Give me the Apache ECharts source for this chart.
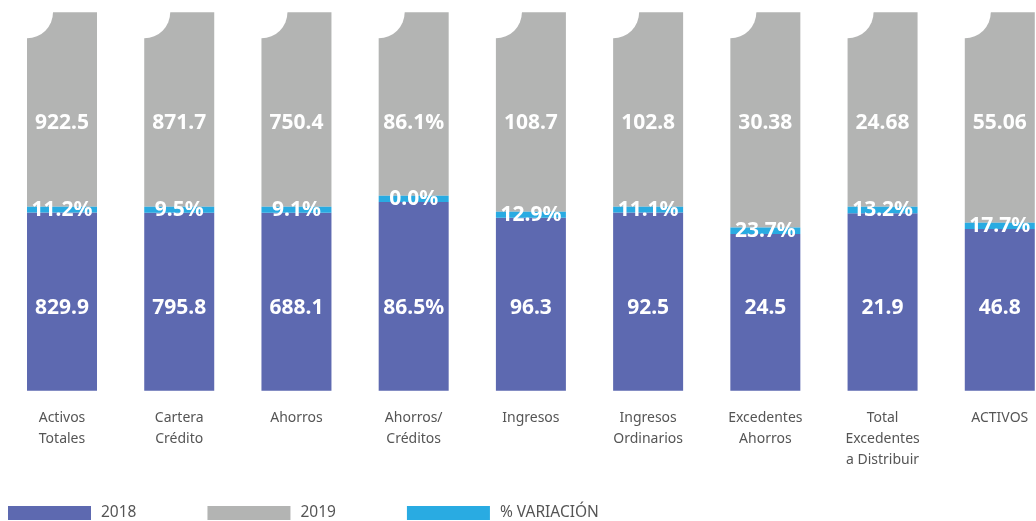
<!DOCTYPE html>
<html>
<head>
<meta charset="utf-8">
<script src="https://cdn.jsdelivr.net/npm/echarts@6/dist/echarts.min.js"></script>
<style>
html,body{margin:0;padding:0;background:#fff;}
#chart{width:1036px;height:521px;}
</style>
</head>
<body>
<div id="chart"></div>
<script>
var categories = ['Activos\nTotales','Cartera\nCrédito','Ahorros','Ahorros/\nCréditos','Ingresos','Ingresos\nOrdinarios','Excedentes\nAhorros','Total\nExcedentes\na Distribuir','ACTIVOS'];
var labels2018 = ['829.9','795.8','688.1','86.5%','96.3','92.5','24.5','21.9','46.8'];
var labels2019 = ['922.5','871.7','750.4','86.1%','108.7','102.8','30.38','24.68','55.06'];
var labelsVar = ['11.2%','9.5%','9.1%','0.0%','12.9%','11.1%','23.7%','13.2%','17.7%'];
// bar heights as share of the full column (%)
var share2018 = [47.1,47.0,47.0,49.9,45.7,47.1,41.4,46.9,42.7];
var shareVar  = [1.5,1.6,1.6,1.6,1.6,1.5,1.7,1.7,1.7];
var share2019 = [51.4,51.4,51.4,48.5,52.7,51.4,56.9,51.4,55.6];
var notchTop = [100,100,100,100,100,100,100,100,100];

var BLUE = '#5d69b0', GRAY = '#b3b4b3', CYAN = '#29abe2';
var valFont = {color:'#fff', fontFamily:'Noto Sans', fontWeight:'bold', fontSize:21};

var chart = echarts.init(document.getElementById('chart'));
chart.setOption({
  animation:false,
  grid:{left:3.4, width:1055, top:12.3, height:378.4, outerBoundsMode:'none', containLabel:false},
  legend:{
    left:8, top:505, padding:0, itemWidth:83, itemHeight:14, itemGap:71, icon:'rect',
    data:['2018','2019','% VARIACIÓN'],
    textStyle:{color:'#555', fontFamily:'Noto Sans', fontSize:15.5, padding:[0,0,0,5]}
  },
  xAxis:{
    type:'category', data:categories,
    axisLine:{show:false}, axisTick:{show:false},
    axisLabel:{interval:0, margin:17, color:'#555', fontFamily:'Noto Sans', fontSize:14, lineHeight:21}
  },
  yAxis:{type:'value', min:0, max:100, show:false, splitLine:{show:false}},
  series:[
    {name:'2018', type:'bar', stack:'s', barWidth:70, data:share2018,
     itemStyle:{color:BLUE},
     label:Object.assign({show:true, position:['50%','100%'], offset:[0,-83], align:'center', verticalAlign:'middle',
       formatter:function(p){return labels2018[p.dataIndex];}}, valFont)},
    {name:'% VARIACIÓN', type:'bar', stack:'s', barWidth:70, data:shareVar,
     itemStyle:{color:CYAN}, z:3,
     label:Object.assign({show:true, position:['50%','50%'], offset:[0,0], align:'center', verticalAlign:'middle',
       formatter:function(p){return labelsVar[p.dataIndex];}}, valFont)},
    {name:'2019', type:'bar', stack:'s', barWidth:70, data:share2019,
     itemStyle:{color:GRAY},
     label:Object.assign({show:true, position:['50%',111], align:'center', verticalAlign:'middle',
       formatter:function(p){return labels2019[p.dataIndex];}}, valFont)},
    {name:'notch', type:'scatter', data:notchTop, symbol:'circle', symbolSize:52,
     symbolOffset:[-35,0], clip:false, z:10, silent:true,
     itemStyle:{color:'#fff', opacity:1}}
  ]
});
</script>
</body>
</html>
